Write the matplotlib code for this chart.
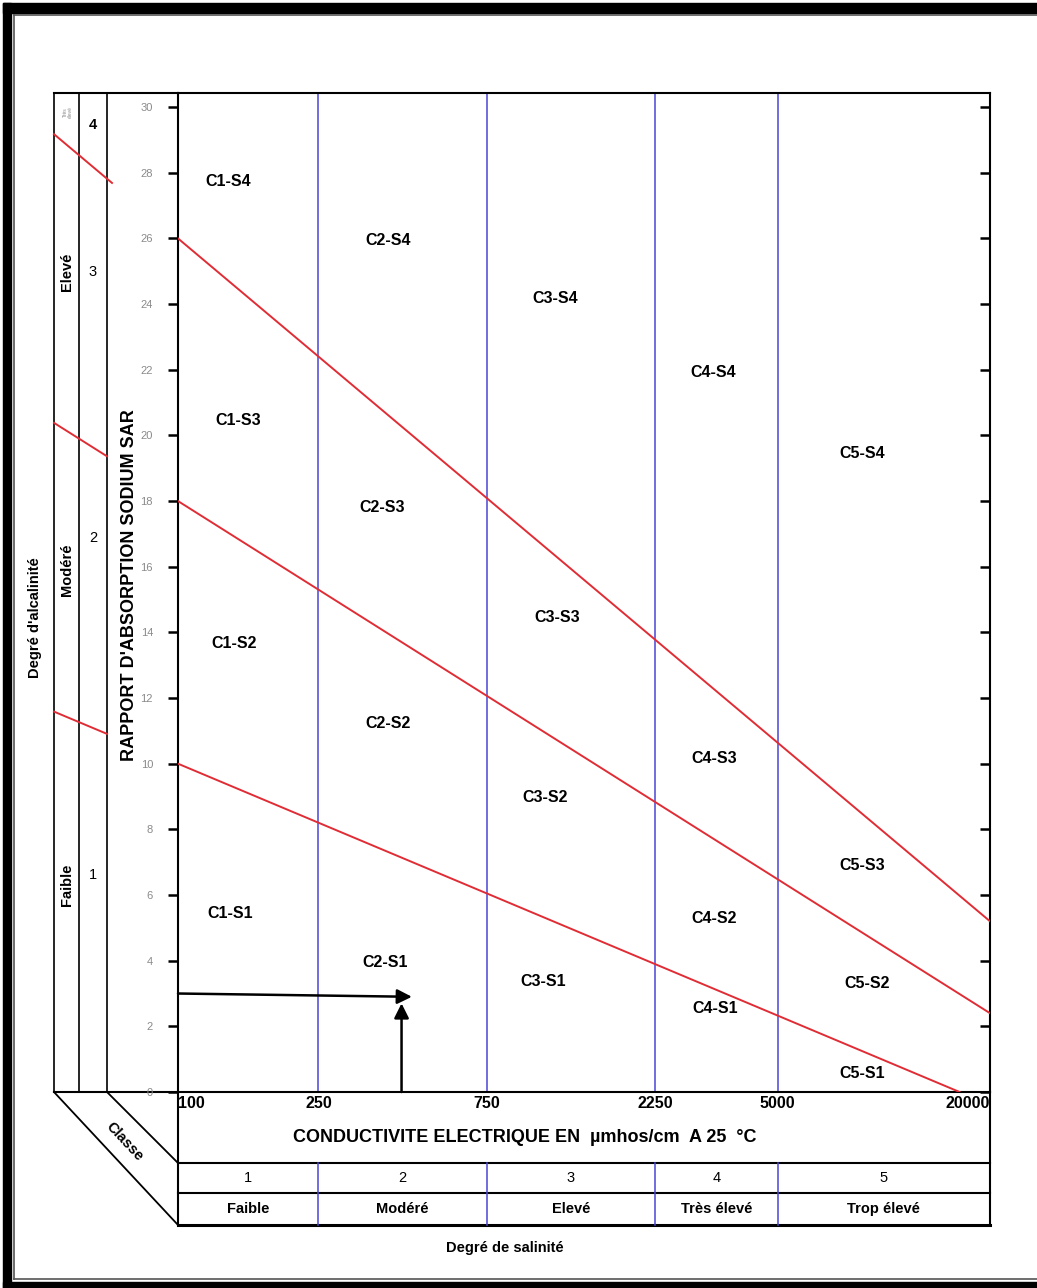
import matplotlib
matplotlib.use('Agg')
import matplotlib.pyplot as plt
import numpy as np
from matplotlib import font_manager
from matplotlib.patches import Rectangle
from matplotlib.transforms import blended_transform_factory

# ---------------- data ----------------
ec_bounds = [100, 250, 750, 2250, 5000, 20000]
ec_tick_labels = ['100', '250', '750', '2250', '5000', '20000']
sar_ticks = list(range(0, 31, 2))
salinity_classes = ['1', '2', '3', '4', '5']
salinity_names = ['Faible', 'Modéré', 'Elevé', 'Très élevé', 'Trop élevé']
alk_classes = ['1', '2', '3', '4']
alk_names = ['Faible', 'Modéré', 'Elevé', 'Très\nélevé']

# sodium hazard boundaries (EC, SAR) – straight lines on log EC axis
s1s2_ec = [100, 16400]
s1s2_sar = [10.0, 0.0]
s2s3_ec = [100, 20000]
s2s3_sar = [18.0, 2.4]
s3s4_ec = [100, 20000]
s3s4_sar = [26.0, 5.2]

zone_names = ['C1-S4', 'C2-S4', 'C3-S4', 'C4-S4', 'C5-S4',
              'C1-S3', 'C2-S3', 'C3-S3', 'C4-S3', 'C5-S3',
              'C1-S2', 'C2-S2', 'C3-S2', 'C4-S2', 'C5-S2',
              'C1-S1', 'C2-S1', 'C3-S1', 'C4-S1', 'C5-S1']

# sample arrows
h_arrow_ec = [100, 460]
h_arrow_sar = [3.0, 2.9]
v_arrow_ec = [430, 430]
v_arrow_sar = [0.0, 2.7]

# ---------------- layout (pixels) ----------------
W, H = 1037, 1288
AX_L, AX_R, AX_T, AX_B = 178, 990, 93, 1092
zone_pos = [(228, 181), (388, 240), (555, 298), (713, 372), (862, 453),
            (238, 420), (382, 507), (557, 617), (714, 758), (862, 865),
            (234, 643), (388, 723), (545, 797), (714, 918), (867, 983),
            (230, 913), (385, 962), (543, 981), (715, 1008), (862, 1073)]

avail = {f.name for f in font_manager.fontManager.ttflist}
FONT = 'Liberation Sans' if 'Liberation Sans' in avail else 'DejaVu Sans'
plt.rcParams['font.family'] = [FONT, 'DejaVu Sans']

fig = plt.figure(figsize=(W / 100, H / 100), dpi=100)
ov = fig.add_axes([0, 0, 1, 1])
ov.set_xlim(0, W)
ov.set_ylim(H, 0)
ov.axis('off')

ax = fig.add_axes([AX_L / W, 1 - AX_B / H, (AX_R - AX_L) / W, (AX_B - AX_T) / H])
ax.set_xscale('log')
ax.set_xlim(ec_bounds[0], ec_bounds[-1])
ax.set_ylim(0, 30.43)
for s in ax.spines.values():
    s.set_linewidth(1.5)

RED = '#e02d35'
BLUE = '#4a46d6'
K = 'black'

# boundaries
for e, v in [(s1s2_ec, s1s2_sar), (s2s3_ec, s2s3_sar), (s3s4_ec, s3s4_sar)]:
    ax.plot(e, v, color=RED, lw=1.4, zorder=3)

# salinity class verticals
for e in ec_bounds[1:-1]:
    ax.axvline(e, color=BLUE, lw=1.1, zorder=2)

# y ticks
ax.set_yticks(sar_ticks)
ax.set_yticklabels([str(t) for t in sar_ticks], fontsize=8, color='#8a8a8a')
ax.tick_params(axis='y', direction='out', length=7, width=1.8, pad=11)
ax2 = ax.twinx()
ax2.set_ylim(ax.get_ylim())
ax2.set_yticks(sar_ticks)
ax2.set_yticklabels([])
ax2.tick_params(axis='y', direction='in', length=7, width=1.8)
for s in ax2.spines.values():
    s.set_visible(False)

# x ticks
ax.set_xticks(ec_bounds)
ax.set_xticklabels(ec_tick_labels, fontsize=11.5, fontweight='bold')
ax.xaxis.set_minor_locator(matplotlib.ticker.NullLocator())
ax.tick_params(axis='x', length=0, pad=3)
xl = ax.get_xticklabels()
xl[0].set_ha('left')
xl[-1].set_ha('right')

# zone labels (drawn on the main axes, positioned in page pixels)
for name, (px, py) in zip(zone_names, zone_pos):
    ax.text(px, py, name, ha='center', va='center', fontsize=11.5,
            fontweight='bold', zorder=5, transform=ov.transData)

# arrows
ax.annotate('', xy=(h_arrow_ec[1], h_arrow_sar[1]), xytext=(h_arrow_ec[0], h_arrow_sar[0]),
            arrowprops=dict(arrowstyle='-|>', color=K, lw=1.8, mutation_scale=22,
                            shrinkA=0, shrinkB=0), zorder=6)
ax.annotate('', xy=(v_arrow_ec[1], v_arrow_sar[1]), xytext=(v_arrow_ec[0], v_arrow_sar[0]),
            arrowprops=dict(arrowstyle='-|>', color=K, lw=1.8, mutation_scale=22,
                            shrinkA=0, shrinkB=0), zorder=6)

# ---------- left alkalinity columns ----------
C0, C1, C2 = 54, 79, 107
for cx in (C0, C1, C2):
    ov.plot([cx, cx], [AX_T, AX_B], color=K, lw=1.2)
ov.plot([C0, AX_L], [AX_T, AX_T], color=K, lw=1.5)
ov.plot([C0, AX_L], [AX_B, AX_B], color=K, lw=1.5)

# continuation of boundaries into the columns
inv = ax.transData.inverted()
def px_to_ec(px):
    return inv.transform(ov.transData.transform((px, 0)))[0]
for e, v, xend in [(s1s2_ec, s1s2_sar, C2), (s2s3_ec, s2s3_sar, C2), (s3s4_ec, s3s4_sar, 112)]:
    p = np.polyfit(np.log10(e), v, 1)
    ee = np.array([px_to_ec(C0), px_to_ec(xend)])
    ax.plot(ee, np.polyval(p, np.log10(ee)), color=RED, lw=1.4, clip_on=False, zorder=3)

for name, y in zip(alk_names[:3], [885, 570, 272]):
    ov.text((C0 + C1) / 2, y, name, rotation=90, ha='center', va='center',
            fontsize=10.5, fontweight='bold')
ov.text((C0 + C1) / 2 + 1, 112, alk_names[3], rotation=90, ha='center', va='center',
        fontsize=3.5, color='#888888', linespacing=1.0)
for name, y in zip(alk_classes, [875, 538, 272, 125]):
    ov.text((C1 + C2) / 2, y, name, ha='center', va='center', fontsize=10.5,
            fontweight='bold' if name == '4' else 'normal')

ov.text(35, 618, "Degré d'alcalinité", rotation=90, ha='center', va='center',
        fontsize=10.5, fontweight='bold')
ov.text(130, 585, "RAPPORT D'ABSORPTION SODIUM SAR", rotation=90, ha='center',
        va='center', fontsize=13, fontweight='bold')

# ---------- bottom salinity table ----------
R1, R2, R3 = 1163, 1193, 1225
ov.plot([AX_L, AX_L], [AX_B, R3], color=K, lw=1.5)
ov.plot([AX_R, AX_R], [AX_B, R3], color=K, lw=1.5)
ov.plot([AX_L, AX_R], [R1, R1], color=K, lw=1.5)
ov.plot([AX_L, AX_R], [R2, R2], color=K, lw=1.5)
ov.plot([AX_L, AX_R], [R3, R3], color=K, lw=2.2)
ov.plot([C0, AX_L], [AX_B, R3], color=K, lw=1.3)
ov.plot([C2, AX_L], [AX_B, R1], color=K, lw=1.3)
ov.text(124, 1142, 'Classe', rotation=-47, ha='center', va='center',
        fontsize=10.5, fontweight='bold')

tr = blended_transform_factory(ax.transData, ov.transData)
for e in ec_bounds[1:-1]:
    ax.plot([e, e], [R1, R3], color=BLUE, lw=1.1, transform=tr, clip_on=False)
for i in range(5):
    xm = np.sqrt(ec_bounds[i] * ec_bounds[i + 1])
    ax.text(xm, (R1 + R2) / 2, salinity_classes[i], transform=tr, ha='center',
            va='center', fontsize=10.5)
    ax.text(xm, (R2 + R3) / 2, salinity_names[i], transform=tr, ha='center',
            va='center', fontsize=10.5, fontweight='bold')

ov.text(525, 1138, 'CONDUCTIVITE ELECTRIQUE EN  µmhos/cm  A 25  °C', ha='center',
        va='center', fontsize=13, fontweight='bold')
ov.text(505, 1248, 'Degré de salinité', ha='center', va='center', fontsize=10.5,
        fontweight='bold')

# ---------- page frame ----------
ov.add_patch(Rectangle((3, 3), W, 10, color=K))
ov.add_patch(Rectangle((3, 3), 8, H, color=K))
ov.add_patch(Rectangle((3, H - 6), W, 6, color=K))
ov.plot([14, 14], [15, H - 9], color='#555555', lw=1.2)
ov.plot([14, W], [15, 15], color='#555555', lw=1.2)
ov.plot([14, W], [H - 9, H - 9], color='#555555', lw=1.2)

fig.savefig('out.png', dpi=100)
